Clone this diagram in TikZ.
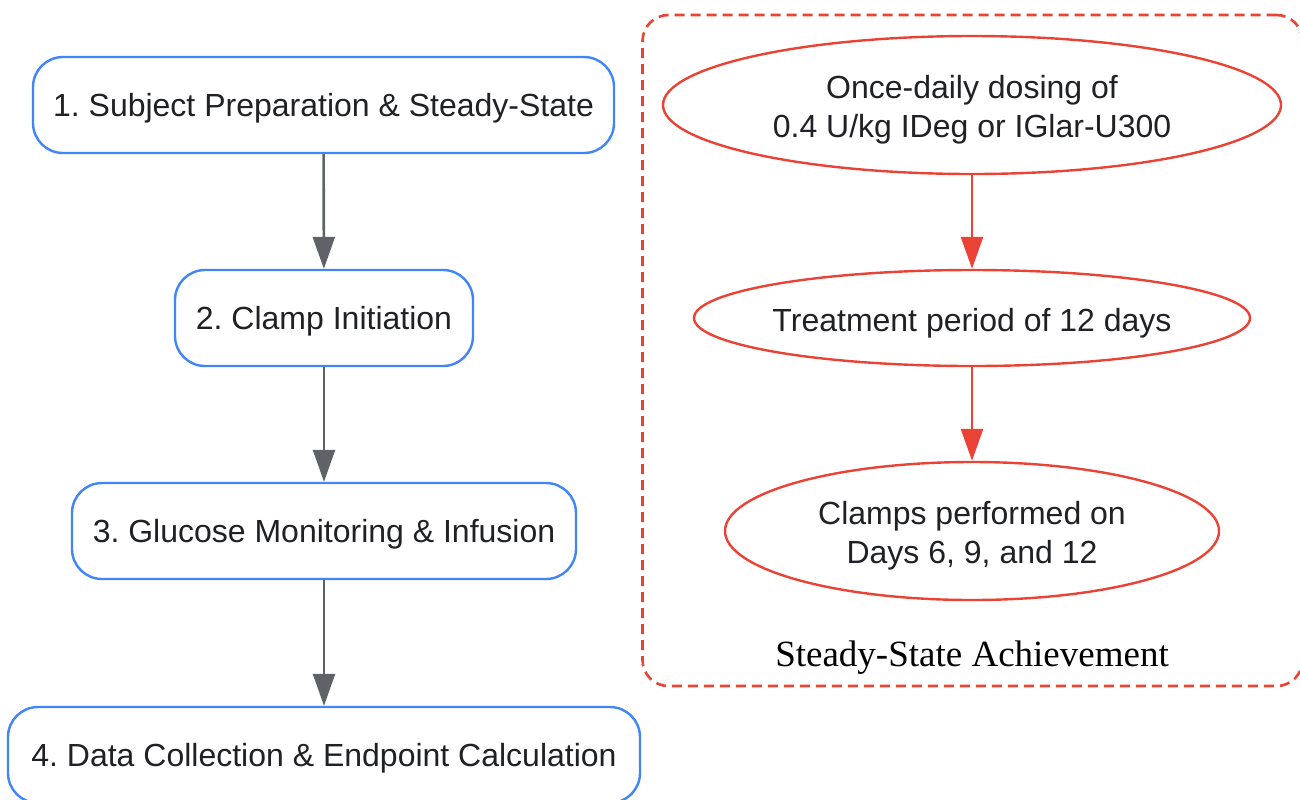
\documentclass[tikz,border=0pt]{standalone}
\usepackage{fontspec}
\setmainfont{Liberation Sans}
\newfontfamily\labelserif{Liberation Serif}
\usetikzlibrary{arrows.meta,shapes.geometric}
\definecolor{boxblue}{HTML}{4285F4}
\definecolor{boxred}{HTML}{EA4335}
\definecolor{txtgray}{HTML}{202124}
\definecolor{arrgray}{HTML}{5F6368}
\frenchspacing
\newcommand{\ovaltext}[1]{\makebox[0pt]{\smash{\raisebox{-7pt}{\begin{tabular}{@{}c@{}}#1\end{tabular}}}}}
\begin{document}
\begin{tikzpicture}[x=0.5pt,y=-0.5pt,
  stepbox/.style={draw=boxblue,line width=1.2pt,rounded corners=15pt,fill=white,
    minimum height=48pt,inner sep=0pt,text depth=0pt,text=txtgray,font=\fontsize{16}{19.5}\selectfont},
  ovalbox/.style={ellipse,draw=boxred,line width=1.2pt,fill=white,inner sep=0pt,
    text=txtgray,font=\fontsize{16}{19.5}\selectfont},
  grayarrow/.style={draw=arrgray,line width=1.3pt,-{Triangle[length=16pt,width=11pt]}},
  redarrow/.style={draw=boxred,line width=1.3pt,-{Triangle[length=16pt,width=11pt]}},
  groupbox/.style={draw=boxred,line width=1.3pt,dash pattern=on 5pt off 3pt,rounded corners=13pt}
]
\useasboundingbox (0,0) rectangle (1300,799);
\clip (0,0) rectangle (1300,799);
\fill[white] (0,0) rectangle (1300,799);
% group container
\node[groupbox,minimum width=330pt,minimum height=335.5pt] (grp) at (972.5,350.5) {};
\node[font=\labelserif\fontsize{18.5}{22}\selectfont,text=black] (grplabel) at (972,658) {Steady-State Achievement};
% left flow
\node[stepbox,minimum width=290.5pt] (s1) at (323.5,105) {1. Subject Preparation \& Steady-State};
\node[stepbox,minimum width=149pt] (s2) at (324,318) {2. Clamp Initiation};
\node[stepbox,minimum width=252pt] (s3) at (324,531) {3. Glucose Monitoring \& Infusion};
\node[stepbox,minimum width=316pt] (s4) at (324,755) {4. Data Collection \& Endpoint Calculation};
\draw[grayarrow] (s1) -- (s2);
\draw[grayarrow] (s2) -- (s3);
\draw[grayarrow] (s3) -- (s4);
% right flow
\node[ovalbox,minimum width=309pt,minimum height=69pt] (e1) at (972,105) {\ovaltext{Once-daily dosing of\\0.4 U/kg IDeg or IGlar-U300}};
\node[ovalbox,minimum width=278pt,minimum height=48pt] (e2) at (972,318) {\ovaltext{Treatment period of 12 days}};
\node[ovalbox,minimum width=247pt,minimum height=69pt] (e3) at (972,531) {\ovaltext{Clamps performed on\\Days 6, 9, and 12}};
\draw[redarrow] (e1) -- (e2);
\draw[redarrow] (e2) -- (e3);
\end{tikzpicture}
\end{document}
